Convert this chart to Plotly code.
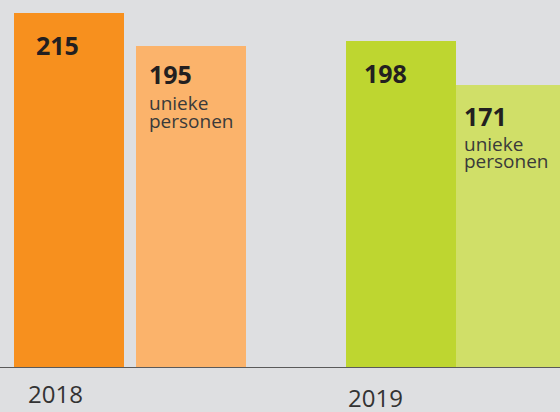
import plotly.graph_objects as go

# Data
years = ["2018", "2019"]
totals = [215, 198]
unique_persons = [195, 171]
sub_line1 = "unieke"
sub_line2 = "personen"

# Styling / layout constants
BG = "#dedfe1"
C_TOTAL = ["#f7901e", "#bed630"]
C_UNIQUE = ["#fbb36b", "#d0df68"]
BAR_W = 110
X_TOTAL = [69, 401]     # bar centres (plot units = pixels)
X_UNIQUE = [191, 511]
YMAX = 215 * 367 / 354

fig = go.Figure()
fig.add_trace(go.Bar(x=X_TOTAL, y=totals, width=BAR_W,
                     marker=dict(color=C_TOTAL, line=dict(width=0)),
                     hoverinfo="skip", showlegend=False))
fig.add_trace(go.Bar(x=X_UNIQUE, y=unique_persons, width=BAR_W,
                     marker=dict(color=C_UNIQUE, line=dict(width=0)),
                     hoverinfo="skip", showlegend=False))

annos = []
num_font = dict(family="Open Sans", size=25, color="#231f20")
sub_font = dict(family="Open Sans", size=19, color="#3a3a3a")
tot_dx = [20, 16]
tot_dy = [-13, -13]
uni_dx = [11, 6]
uni_dy = [-9, -12]
sub1_dy = [-42, -44]
sub2_dy = [-60, -61]
for i in range(2):
    annos.append(dict(x=X_TOTAL[i] - BAR_W / 2, y=totals[i], xref="x", yref="y",
                      text="<b>%d</b>" % totals[i], showarrow=False,
                      xanchor="left", yanchor="top", xshift=tot_dx[i], yshift=tot_dy[i],
                      font=num_font))
    annos.append(dict(x=X_UNIQUE[i] - BAR_W / 2, y=unique_persons[i], xref="x", yref="y",
                      text="<b>%d</b>" % unique_persons[i], showarrow=False,
                      xanchor="left", yanchor="top", xshift=uni_dx[i], yshift=uni_dy[i],
                      font=num_font))
    for txt, dy in ((sub_line1, sub1_dy[i]), (sub_line2, sub2_dy[i])):
        annos.append(dict(x=X_UNIQUE[i] - BAR_W / 2, y=unique_persons[i], xref="x", yref="y",
                          text=txt, showarrow=False, align="left", borderpad=0,
                          xanchor="left", yanchor="top", xshift=uni_dx[i] + 1, yshift=dy - 1,
                          font=sub_font))

year_x = [55, 375]
year_y = [-26, -30]
for i in range(2):
    annos.append(dict(x=year_x[i], y=0, xref="x", yref="y", text=years[i],
                      showarrow=False, xanchor="center", yanchor="middle",
                      yshift=year_y[i],
                      font=dict(family="Open Sans", size=24, color="#333333")))

fig.update_layout(
    width=560, height=412,
    margin=dict(l=0, r=0, t=0, b=45, pad=0),
    paper_bgcolor=BG, plot_bgcolor=BG,
    bargap=0,
    xaxis=dict(range=[0, 560], showgrid=False, zeroline=False, showticklabels=False,
               showline=True, linecolor="#5a5a5a", linewidth=1, ticks=""),
    yaxis=dict(range=[0, YMAX], showgrid=False, zeroline=False, showticklabels=False,
               showline=False, ticks=""),
    annotations=annos,
)

fig.write_html("out.html", config={"displayModeBar": False},
               post_script="document.body.style.margin='0';document.body.style.background='%s';" % BG)
